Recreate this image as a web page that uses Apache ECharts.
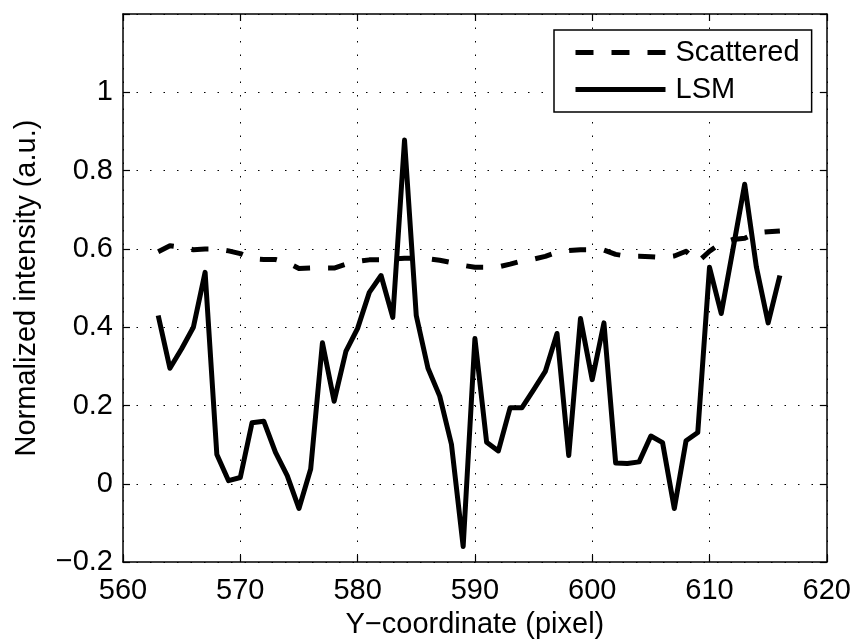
<!DOCTYPE html>
<html>
<head>
<meta charset="utf-8">
<script src="https://cdn.jsdelivr.net/npm/echarts@6/dist/echarts.min.js"></script>
<style>
  html, body { margin: 0; padding: 0; background: #fff; }
  #chart { width: 854px; height: 644px; }
</style>
</head>
<body>
<div id="chart"></div>
<script>
// Pixel row positions along the profile (Y-coordinate)
const pixelY = [
  563, 564, 565, 566, 567, 568, 569, 570, 571, 572,
  573, 574, 575, 576, 577, 578, 579, 580, 581, 582,
  583, 584, 585, 586, 587, 588, 589, 590, 591, 592,
  593, 594, 595, 596, 597, 598, 599, 600, 601, 602,
  603, 604, 605, 606, 607, 608, 609, 610, 611, 612,
  613, 614, 615, 616
];

// Normalized intensity of the scattered-light image
const scattered = [
  0.593, 0.608, 0.604, 0.598, 0.600, 0.600, 0.595, 0.588, 0.575, 0.573,
  0.573, 0.565, 0.550, 0.551, 0.551, 0.551, 0.561, 0.568, 0.572, 0.572,
  0.574, 0.576, 0.576, 0.575, 0.571, 0.565, 0.558, 0.553, 0.553, 0.554,
  0.561, 0.569, 0.574, 0.581, 0.591, 0.596, 0.598, 0.598, 0.597, 0.586,
  0.581, 0.581, 0.580, 0.578, 0.582, 0.594, 0.567, 0.594, 0.615, 0.624,
  0.627, 0.641, 0.644, 0.646
];

// Normalized intensity of the LSM image
const lsm = [
  0.430, 0.295, 0.345, 0.400, 0.540, 0.075, 0.008, 0.016, 0.156, 0.160,
  0.080, 0.021, -0.063, 0.038, 0.360, 0.211, 0.338, 0.397, 0.489, 0.532,
  0.425, 0.878, 0.430, 0.295, 0.224, 0.101, -0.160, 0.371, 0.106, 0.084,
  0.194, 0.194, 0.240, 0.287, 0.384, 0.072, 0.422, 0.266, 0.411, 0.053,
  0.052, 0.056, 0.122, 0.105, -0.063, 0.110, 0.131, 0.553, 0.435, 0.599,
  0.765, 0.553, 0.411, 0.532
];

const xTicks = { min: 560, max: 620, step: 10 };
const yTicks = { min: -0.2, max: 1.2, step: 0.2 };
const yLabelMax = 1.0; // highest labelled y tick

const FONT = '"Liberation Sans", Arial, Helvetica, sans-serif';
const FS = 29;

const pairs = (xs, ys) => xs.map((x, i) => [x, ys[i]]);

const gridLine = { show: true, lineStyle: { color: '#000', width: 1, type: [1.5, 12] } };
const axisLine = { show: true, onZero: false, lineStyle: { color: '#000', width: 1.5 } };
const tickIn = { show: true, inside: true, length: 7, lineStyle: { color: '#000', width: 1.2 } };

const chart = echarts.init(document.getElementById('chart'), null, { renderer: 'canvas' });

chart.setOption({
  backgroundColor: '#fff',
  animation: false,
  textStyle: { fontFamily: FONT },
  grid: { left: 123, right: 27, top: 14, bottom: 80, containLabel: false },
  legend: {
    orient: 'vertical',
    left: 554,
    top: 30,
    padding: [8, 12, 8, 19],
    itemWidth: 90,
    itemHeight: 14,
    itemGap: 8,
    borderColor: '#000',
    borderWidth: 1.5,
    backgroundColor: '#fff',
    itemStyle: { color: 'rgba(0,0,0,0)', borderWidth: 0, opacity: 0 },
    lineStyle: { width: 5, color: '#000', opacity: 1 },
    textStyle: { fontSize: FS, color: '#000', fontFamily: FONT, padding: [0, 0, 0, 5] },
    data: [
      { name: 'Scattered', lineStyle: { type: [18, 18], width: 5 } },
      { name: 'LSM', lineStyle: { type: 'solid', width: 5 } }
    ]
  },
  xAxis: [
    {
      type: 'value',
      min: xTicks.min, max: xTicks.max, interval: xTicks.step,
      name: 'Y\u2212coordinate (pixel)',
      nameLocation: 'middle',
      nameGap: 47,
      nameTextStyle: { fontSize: FS, color: '#000', fontFamily: FONT },
      axisLine: axisLine,
      axisTick: tickIn,
      axisLabel: { fontSize: FS, color: '#000', margin: 14, fontFamily: FONT },
      splitLine: gridLine
    },
    {
      type: 'value', position: 'top',
      min: xTicks.min, max: xTicks.max, interval: xTicks.step,
      axisLine: axisLine, axisTick: tickIn,
      axisLabel: { show: false }, splitLine: { show: false }
    }
  ],
  yAxis: [
    {
      type: 'value',
      min: yTicks.min, max: yTicks.max, interval: yTicks.step,
      name: 'Normalized intensity (a.u.)',
      nameLocation: 'middle',
      nameGap: 82,
      nameTextStyle: { fontSize: FS, color: '#000', fontFamily: FONT },
      axisLine: axisLine,
      axisTick: tickIn,
      axisLabel: {
        fontSize: FS, color: '#000', margin: 10, fontFamily: FONT,
        formatter: v => (v > yLabelMax + 1e-9 ? '' : String(Math.round(v * 10) / 10).replace('-', '\u2212'))
      },
      splitLine: gridLine
    },
    {
      type: 'value', position: 'right',
      min: yTicks.min, max: yTicks.max, interval: yTicks.step,
      axisLine: axisLine, axisTick: tickIn,
      axisLabel: { show: false }, splitLine: { show: false }
    }
  ],
  series: [
    {
      name: 'Scattered',
      type: 'line',
      data: pairs(pixelY, scattered),
      showSymbol: false,
      symbol: 'none',
      lineStyle: { color: '#000', width: 5, type: [17, 18], join: 'round' },
      itemStyle: { color: '#000' },
      z: 3
    },
    {
      name: 'LSM',
      type: 'line',
      data: pairs(pixelY, lsm),
      showSymbol: false,
      symbol: 'none',
      lineStyle: { color: '#000', width: 5, type: 'solid', join: 'round' },
      itemStyle: { color: '#000' },
      z: 4
    }
  ]
});
</script>
</body>
</html>
